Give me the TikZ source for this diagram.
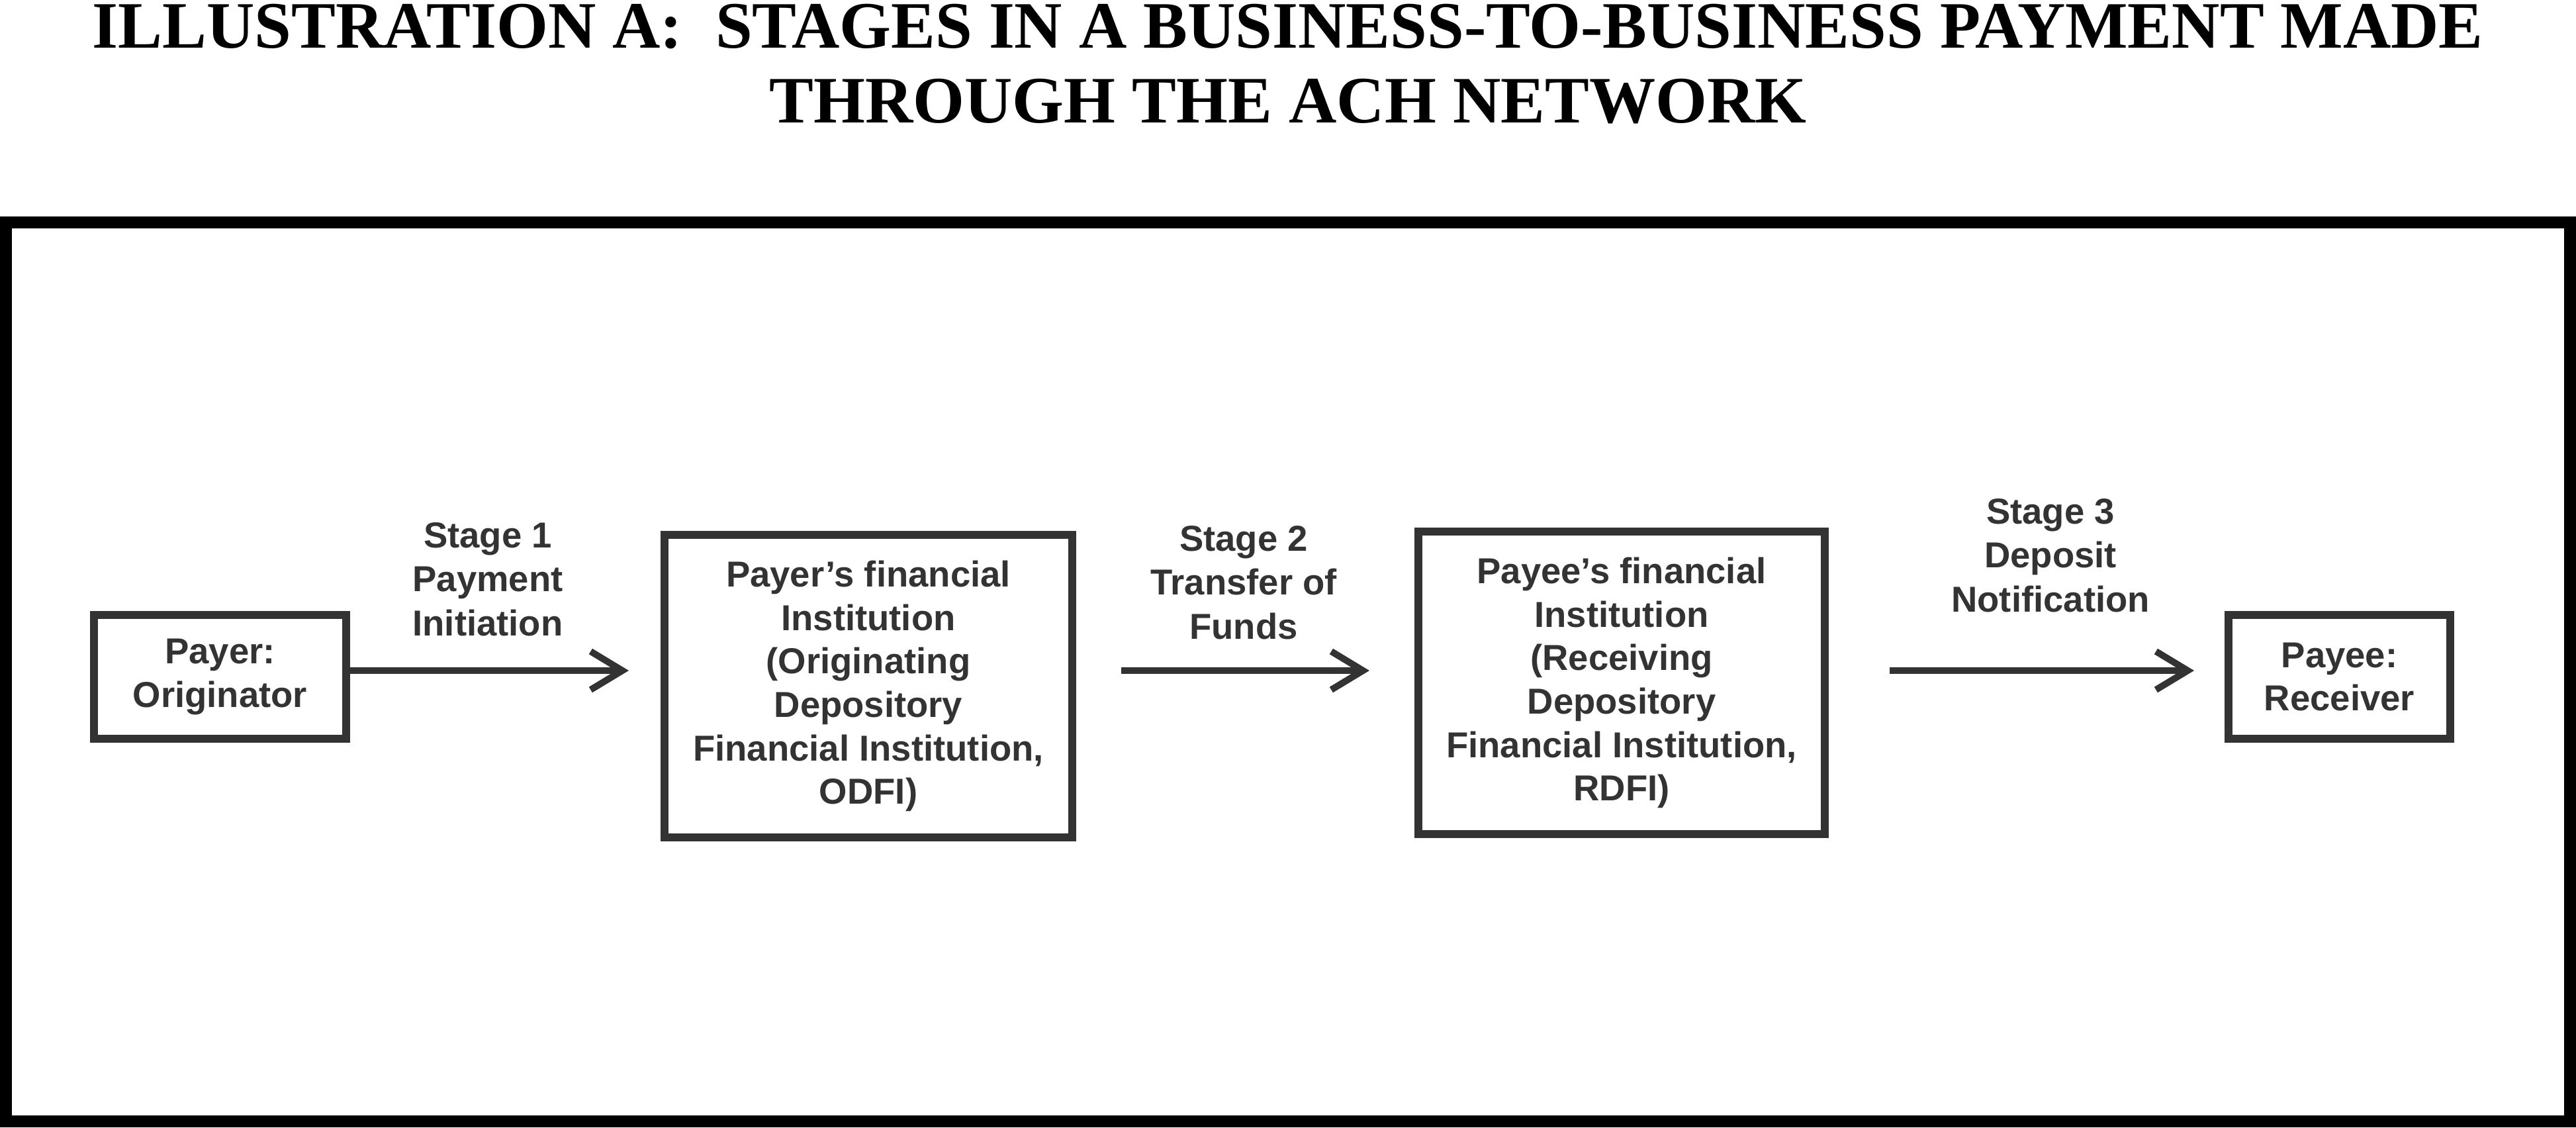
\documentclass[tikz,border=0pt]{standalone}
\usepackage{fontspec}
\setmainfont{Liberation Serif}
\setsansfont{Liberation Sans}
\usepackage{tikz}
\usetikzlibrary{arrows.meta,positioning}

\begin{document}
\begin{tikzpicture}[
  box/.style={draw=black!80,line width=1.2mm,align=center,text=black!80,
    font=\sffamily\bfseries\fontsize{15.5}{18.7}\selectfont},
  stagelbl/.style={align=center,text=black!80,
    font=\sffamily\bfseries\fontsize{15.5}{18.9}\selectfont},
  flow/.style={-{Straight Barb[length=4.8mm,width=5.8mm]},draw=black!80,line width=1mm},
  heading/.style={anchor=base,inner sep=0pt,font=\rmfamily\bfseries\fontsize{28.5}{33}\selectfont}]
\useasboundingbox (0,0) rectangle (38.92,-17.03);
% title
\node[heading] (t1) at (19.46,-0.72) {ILLUSTRATION A:\ \ STAGES IN A BUSINESS-TO-BUSINESS PAYMENT MADE};
\node[heading] (t2) at (19.46,-1.85) {THROUGH THE ACH NETWORK};
\draw[line width=1.8mm] (0.09,-3.36) rectangle (38.83,-16.94);
% the four parties
\node[box,minimum width=3.81cm,minimum height=1.87cm] (payer) at (3.325,-10.225) {Payer:\\Originator};
\node[box,minimum width=6.16cm,minimum height=4.57cm] (odfi) at (13.12,-10.365)
    {Payer's financial\\Institution\\(Originating\\Depository\\Financial Institution,\\ODFI)};
\node[box,minimum width=6.14cm,minimum height=4.57cm] (rdfi) at (24.50,-10.315)
    {Payee's financial\\Institution\\(Receiving\\Depository\\Financial Institution,\\RDFI)};
\node[box,minimum width=3.35cm,minimum height=1.87cm] (payee) at (35.345,-10.225) {Payee:\\Receiver};
\coordinate (lvl) at ([yshift=0.095cm]payer.east);
% stages
\draw[flow,shorten >=4.8mm] (lvl) -- (odfi.west |- lvl);
\draw[flow,shorten <=6.8mm,shorten >=6.8mm] (odfi.east |- lvl) -- (rdfi.west |- lvl);
\draw[flow,shorten <=9.2mm,shorten >=4.6mm] (rdfi.east |- lvl) -- (payee.west |- lvl);
\node[stagelbl] (s1) at (7.37,-8.75) {Stage 1\\Payment\\Initiation};
\node[stagelbl] (s2) at (18.79,-8.80) {Stage 2\\Transfer of\\Funds};
\node[stagelbl] (s3) at (30.98,-8.39) {Stage 3\\Deposit\\Notification};
\end{tikzpicture}
\end{document}
